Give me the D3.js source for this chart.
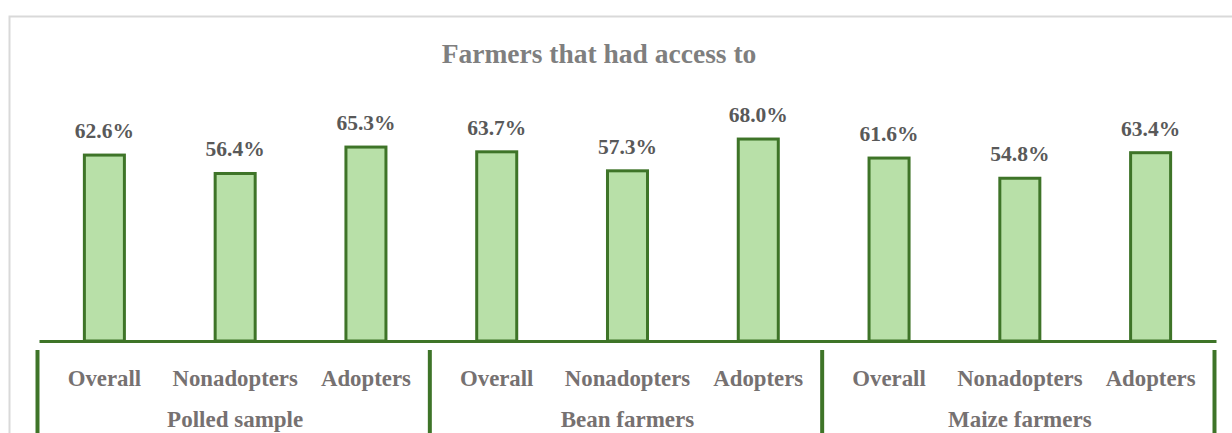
<!DOCTYPE html>
<html>
<head>
<meta charset="utf-8">
<script src="https://cdn.jsdelivr.net/npm/d3@7"></script>
<style>
  html, body { margin: 0; padding: 0; background: #fff; }
  svg { display: block; }
</style>
</head>
<body>
<svg id="chart" width="1232" height="433"></svg>
<script>
const title = "Farmers that had access to";
const groups = ["Polled sample", "Bean farmers", "Maize farmers"];
const subCategories = ["Overall", "Nonadopters", "Adopters"];
const values = [62.6, 56.4, 65.3, 63.7, 57.3, 68.0, 61.6, 54.8, 63.4];

const data = [];
groups.forEach((g, gi) => subCategories.forEach((s, si) => {
  data.push({ id: gi + "-" + si, group: g, sub: s, value: values[gi * 3 + si] });
}));

const svg = d3.select("#chart");
const green = "#3e7428";
const fill = "#b8e0a8";
const gray = "#767171";
const ff = "Liberation Serif";

// chart border
svg.append("rect").attr("x", 9.5).attr("y", 16.5).attr("width", 1240).attr("height", 440)
  .attr("fill", "none").attr("stroke", "#d9d9d9").attr("stroke-width", 2);

const x = d3.scaleBand().domain(data.map(d => d.id)).range([39, 1216])
  .paddingInner(0.694).paddingOuter(0.347);
const y = d3.scaleLinear().domain([0, 100]).range([341, 44]);
const step = x.step();

// title
svg.append("text").attr("x", 599).attr("y", 63).attr("text-anchor", "middle")
  .attr("font-family", ff).attr("font-weight", "bold")
  .attr("fill", "#7f7f7f").style("font-size", "27.5px").text(title);

// bars
svg.selectAll("rect.bar").data(data).enter().append("rect").attr("class", "bar")
  .attr("x", d => x(d.id)).attr("width", x.bandwidth())
  .attr("y", d => y(d.value)).attr("height", d => y(0) - y(d.value))
  .attr("fill", fill).attr("stroke", green).attr("stroke-width", 3);

// axis line
const axis = d3.axisBottom(x).tickSize(0).tickFormat("");
const axG = svg.append("g").attr("transform", `translate(0,${y(0)})`).call(axis);
axG.select(".domain").attr("stroke", green).attr("stroke-width", 3);

// value labels
svg.selectAll("text.val").data(data).enter().append("text").attr("class", "val")
  .attr("x", d => x(d.id) + x.bandwidth() / 2).attr("y", d => y(d.value) - 17)
  .attr("font-family", ff).attr("font-weight", "bold")
  .attr("text-anchor", "middle").attr("fill", "#595959").style("font-size", "21.5px")
  .text(d => d.value.toFixed(1) + "%");

// category labels
svg.selectAll("text.cat").data(data).enter().append("text").attr("class", "cat")
  .attr("x", d => x(d.id) + x.bandwidth() / 2).attr("y", 386)
  .attr("font-family", ff).attr("font-weight", "bold")
  .attr("text-anchor", "middle").attr("fill", gray).style("font-size", "22.8px")
  .text(d => d.sub);

// group labels
const x0 = x.range()[0];
svg.selectAll("text.grp").data(groups).enter().append("text").attr("class", "grp")
  .attr("x", (d, i) => x0 + step * (i * 3 + 1.5)).attr("y", 427)
  .attr("font-family", ff).attr("font-weight", "bold")
  .attr("text-anchor", "middle").attr("fill", gray).style("font-size", "23px")
  .text(d => d);

// group separators
svg.selectAll("line.sep").data(d3.range(groups.length + 1)).enter().append("line").attr("class", "sep")
  .attr("x1", i => x0 + step * i * 3 - 1.5).attr("x2", i => x0 + step * i * 3 - 1.5)
  .attr("y1", 350).attr("y2", 433).attr("stroke", green).attr("stroke-width", 4);
</script>
</body>
</html>
